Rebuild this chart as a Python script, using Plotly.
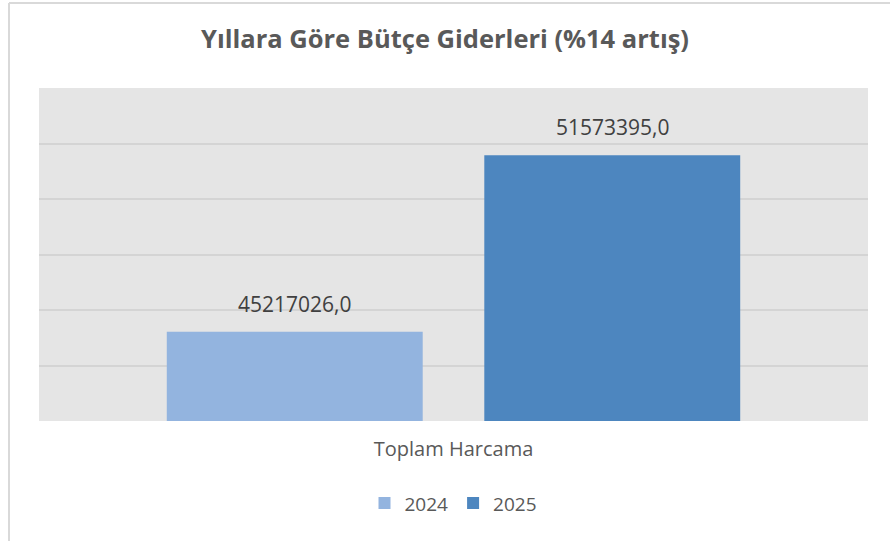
import plotly.graph_objects as go

# chart data
category = ["Toplam Harcama"]
years = ["2024", "2025"]
values_2024 = [45217026.0]
values_2025 = [51573395.0]
bar_colors = ["#93b4df", "#4d86bf"]

title_text = "Yıllara Göre Bütçe Giderleri (%14 artış)"


def tr_number(v):
    # Turkish style decimal comma, one decimal place
    return f"{v:.1f}".replace(".", ",")


fig = go.Figure()
for name, vals, col in zip(years, [values_2024, values_2025], bar_colors):
    fig.add_trace(go.Bar(
        x=category,
        y=vals,
        name=name,
        marker=dict(color=col, line=dict(width=0)),
    ))

# value labels above the bars
for vals, shift in zip([values_2024, values_2025], [-159, 159]):
    fig.add_annotation(
        x=category[0], y=vals[0], xref="x", yref="y",
        text=tr_number(vals[0]), showarrow=False,
        xshift=shift, yshift=12, yanchor="bottom",
        font=dict(family="Open Sans", size=21, color="#404040"),
    )

# outer chart frame (left and top edge)
fig.add_shape(type="line", xref="paper", yref="paper",
              x0=-0.0362, x1=-0.0362, y0=1.255, y1=-0.4,
              line=dict(color="#d9d9d9", width=2))
fig.add_shape(type="line", xref="paper", yref="paper",
              x0=-0.0362, x1=1.05, y0=1.255, y1=1.255,
              line=dict(color="#d9d9d9", width=2))

fig.update_layout(
    width=890, height=541,
    margin=dict(l=39, r=22, t=88, b=120),
    paper_bgcolor="white",
    plot_bgcolor="#e5e5e5",
    barmode="group",
    bargap=0.234,
    bargroupgap=0.194,
    title=dict(
        text=title_text, x=0.5, xanchor="center", y=0.928, yanchor="middle",
        font=dict(family="Open Sans", size=25.5, color="#595959", weight="bold"),
    ),
    xaxis=dict(
        showgrid=False, zeroline=False, showline=False, ticks="",
        ticklabelstandoff=14,
        tickfont=dict(family="Open Sans", size=20, color="#595959"),
    ),
    yaxis=dict(
        range=[42000000, 54000000], dtick=2000000,
        showticklabels=False, showgrid=True, gridcolor="#d4d4d4", gridwidth=2,
        zeroline=False, showline=False, ticks="",
    ),
    legend=dict(
        orientation="h", x=0.5, xanchor="center", y=-0.19, yanchor="top",
        font=dict(family="Open Sans", size=19, color="#595959"),
        itemwidth=30,
    ),
    showlegend=True,
)

# drop the default page margin so the figure sits at the window origin
fig.write_html("out.html", config={"displayModeBar": False},
               post_script="document.body.style.margin='0';")
